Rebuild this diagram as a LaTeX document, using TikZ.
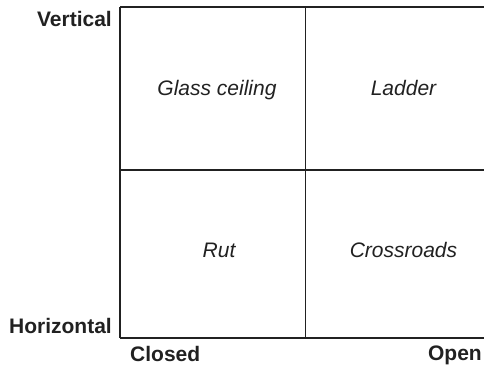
\documentclass[tikz,border=0pt]{standalone}
\usepackage{fontspec}
\setmainfont{Liberation Sans}
\begin{document}
\begin{tikzpicture}[x=1pt,y=-1pt,
  ink/.style={draw=black!87},
  axislabel/.style={font=\fontsize{21}{24}\selectfont\bfseries, text=black!87, inner sep=0pt},
  cell/.style={font=\fontsize{21}{24}\selectfont\itshape, text=black!87, inner sep=0pt, anchor=base}]
\useasboundingbox (0,0) rectangle (484,368);

% corners and dividers of the 2x2 matrix (open on the right)
\coordinate (tl) at (120,6.5);
\coordinate (tr) at (484,6.5);
\coordinate (bl) at (120,338);
\coordinate (br) at (484,338);
\coordinate (ml) at (120,170);
\coordinate (mr) at (484,170);
\coordinate (mt) at (305.5,6.5);
\coordinate (mb) at (305.5,338);

\draw[ink, line width=2pt] (tl) -- (tr);
\draw[ink, line width=2pt] (ml) -- (mr);
\draw[ink, line width=1.2pt] (tl) -- (bl);
\draw[ink, line width=1.2pt] (bl) -- (br);
\draw[ink, line width=1.1pt] (mt) -- (mb);

% quadrant names
\node[cell] (glass) at (217,95.5) {Glass ceiling};
\node[cell] (ladder) at (403.5,95.5) {Ladder};
\node[cell] (rut) at (219,257) {Rut};
\node[cell] (cross) at (403.5,257) {Crossroads};

% axis labels
\node[axislabel, anchor=base east] (vert) at (112,26.5) {Vertical};
\node[axislabel, anchor=base east] (horiz) at (112,333) {Horizontal};
\node[axislabel, anchor=base west] (closed) at (130,361) {Closed};
\node[axislabel, anchor=base east] (open) at (482,360.5) {Open};
\end{tikzpicture}
\end{document}
